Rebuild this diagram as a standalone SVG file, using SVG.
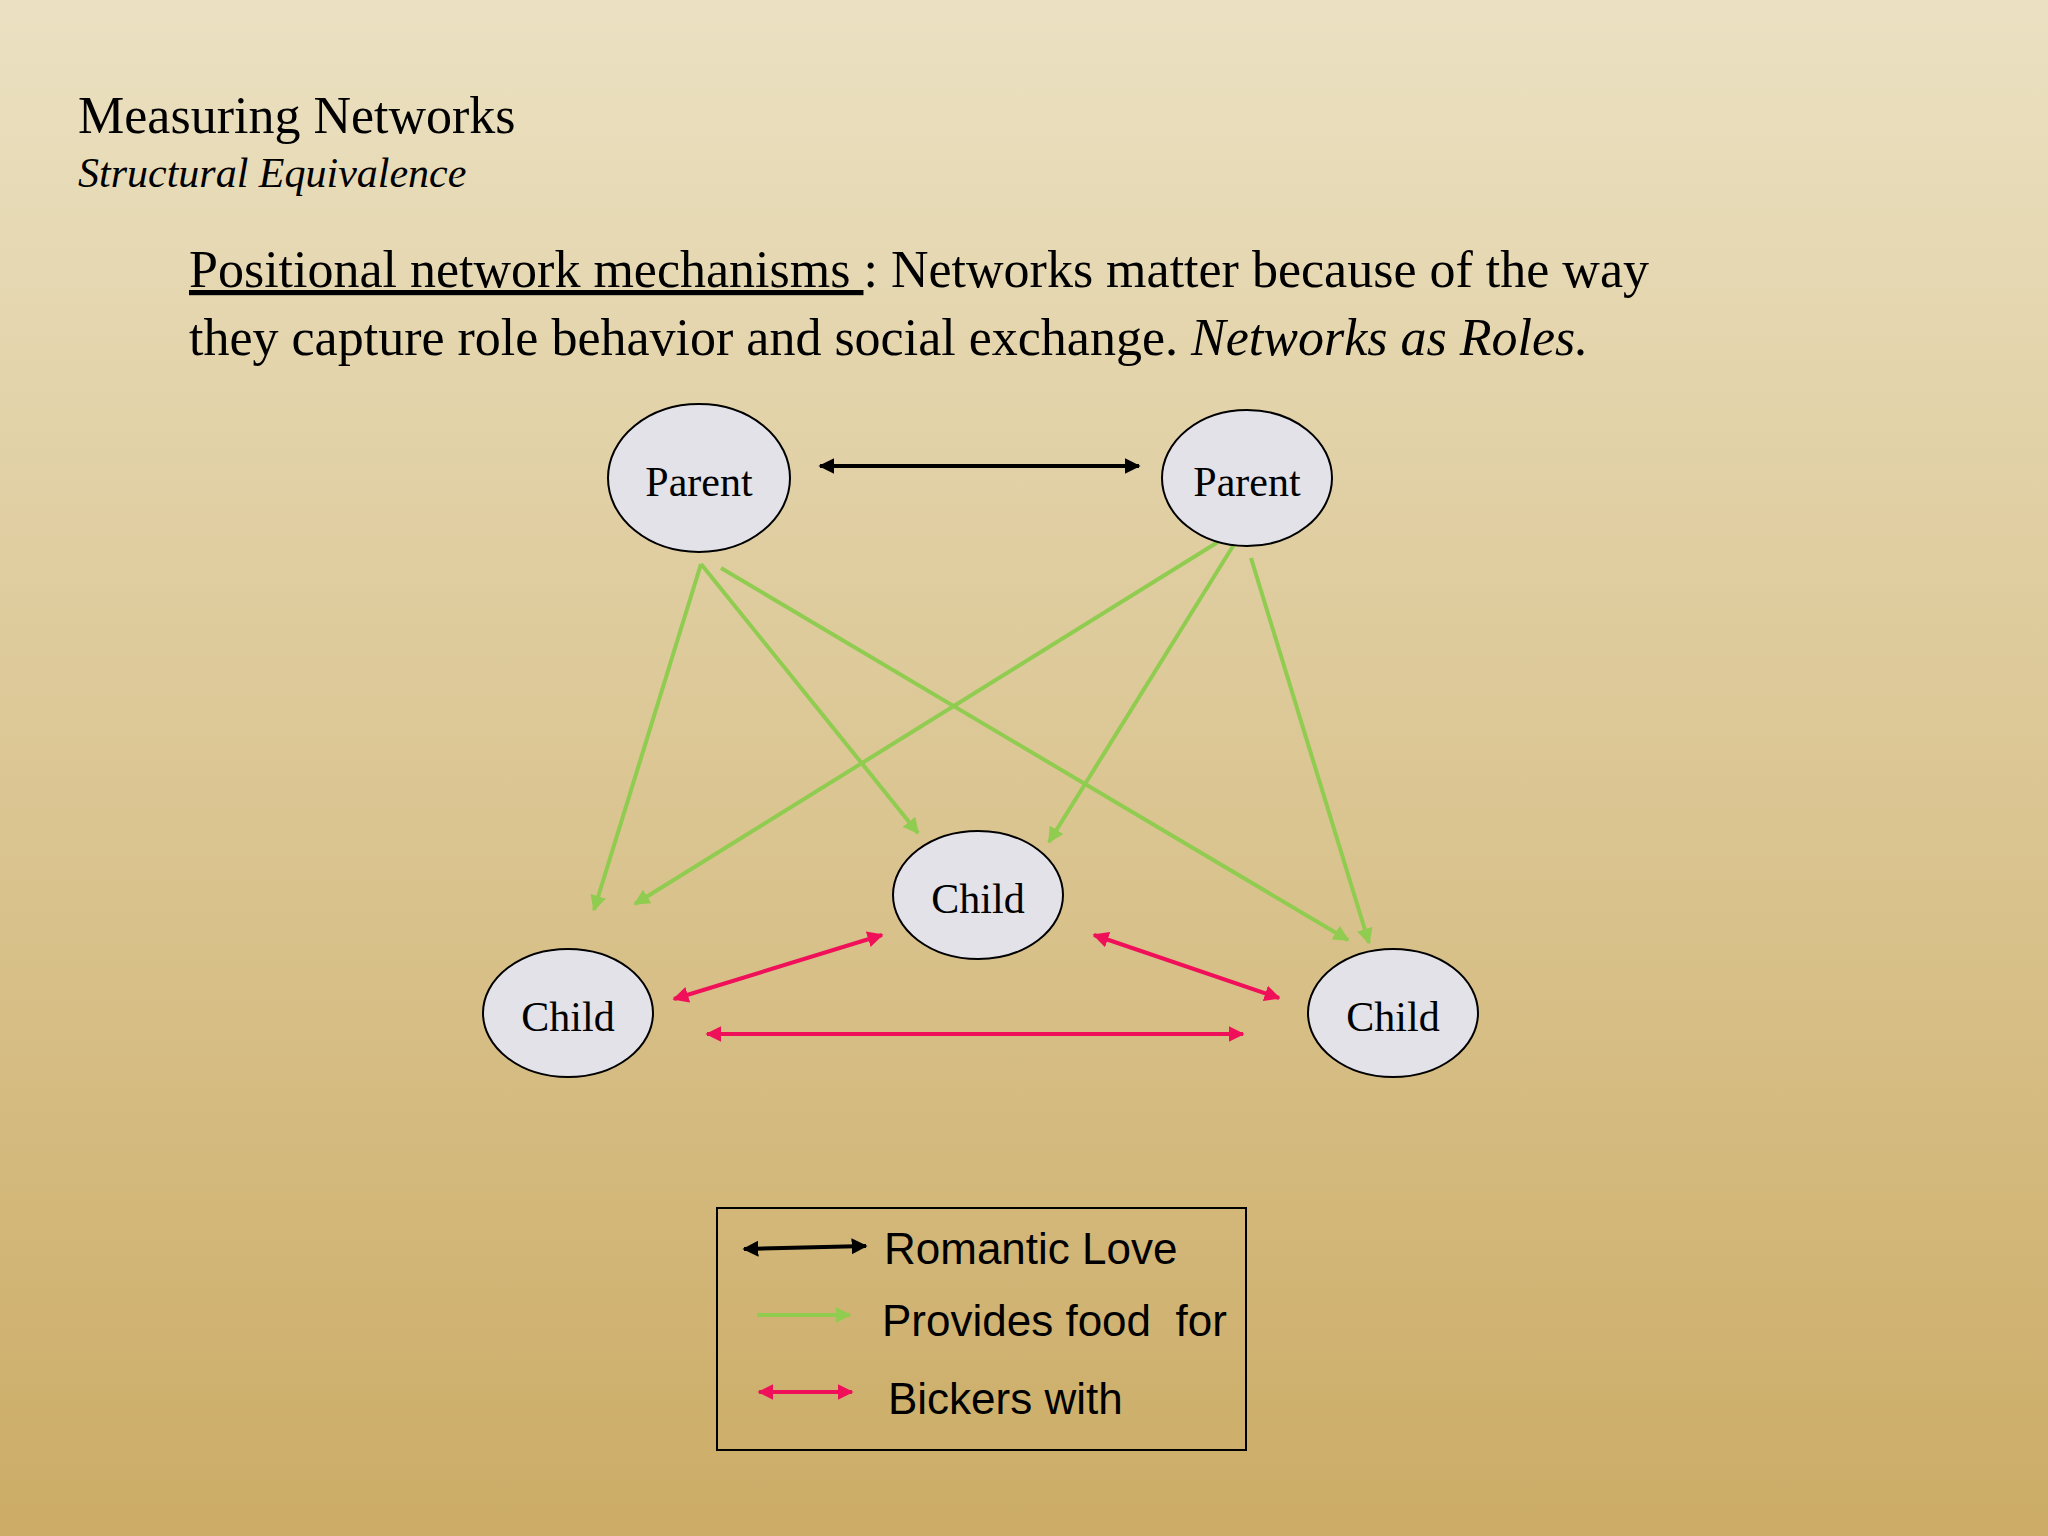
<svg xmlns="http://www.w3.org/2000/svg" width="2048" height="1536" viewBox="0 0 2048 1536">
<style>
.serif{font-family:"Liberation Serif","Times New Roman",serif;fill:#000}
.sans{font-family:"Liberation Sans",Arial,sans-serif;fill:#000;font-size:44px}
.node{fill:#e2e2e8;stroke:#000;stroke-width:2}
.lbl{font-family:"Liberation Serif",serif;font-size:42px;text-anchor:middle}
.blk{stroke:#000;stroke-width:4;fill:none}
.grn{stroke:#8fcc50;stroke-width:4;fill:none}
.red{stroke:#f0105a;stroke-width:4;fill:none}
</style>
<defs>
<linearGradient id="bg" x1="0" y1="0" x2="0" y2="1">
<stop offset="0" stop-color="#ebe1c2"/><stop offset="1" stop-color="#ccac66"/>
</linearGradient>
<marker id="ab" viewBox="0 0 10 10" refX="9" refY="5" markerWidth="4" markerHeight="4" orient="auto-start-reverse"><path d="M0,0L10,5L0,10z" fill="#000"/></marker>
<marker id="ag" viewBox="0 0 10 10" refX="9" refY="5" markerWidth="4" markerHeight="4" orient="auto-start-reverse"><path d="M0,0L10,5L0,10z" fill="#8fcc50"/></marker>
<marker id="ar" viewBox="0 0 10 10" refX="9" refY="5" markerWidth="4" markerHeight="4" orient="auto-start-reverse"><path d="M0,0L10,5L0,10z" fill="#f0105a"/></marker>
</defs>
<rect width="2048" height="1536" fill="url(#bg)"/>
<text class="serif" x="78" y="133" font-size="52">Measuring Networks</text>
<text class="serif" x="78" y="187" font-size="42" font-style="italic">Structural Equivalence</text>
<text class="serif" x="189" y="287" font-size="52"><tspan text-decoration="underline">Positional network mechanisms </tspan>: Networks matter because of the way</text>
<text class="serif" x="189" y="355" font-size="52">they capture role behavior and social exchange.  <tspan font-style="italic">Networks as Roles.</tspan></text>
<g id="connectors">
<line class="blk" x1="820" y1="466" x2="1139" y2="466" marker-start="url(#ab)" marker-end="url(#ab)"/>
<line class="grn" x1="701" y1="564" x2="594" y2="910" marker-end="url(#ag)"/>
<line class="grn" x1="701" y1="564" x2="918" y2="833" marker-end="url(#ag)"/>
<line class="grn" x1="721" y1="568" x2="1348" y2="940" marker-end="url(#ag)"/>
<line class="grn" x1="1218" y1="542" x2="635" y2="904" marker-end="url(#ag)"/>
<line class="grn" x1="1238" y1="538" x2="1049" y2="842" marker-end="url(#ag)"/>
<line class="grn" x1="1251" y1="558" x2="1369" y2="943" marker-end="url(#ag)"/>
<line class="red" x1="674" y1="999" x2="882" y2="935" marker-start="url(#ar)" marker-end="url(#ar)"/>
<line class="red" x1="1094" y1="935" x2="1279" y2="998" marker-start="url(#ar)" marker-end="url(#ar)"/>
<line class="red" x1="707" y1="1034" x2="1243" y2="1034" marker-start="url(#ar)" marker-end="url(#ar)"/>
</g>
<g id="parent1"><ellipse class="node" cx="699" cy="478" rx="91" ry="74"/><text class="lbl" x="699" y="496">Parent</text></g>
<g id="parent2"><ellipse class="node" cx="1247" cy="478" rx="85" ry="68"/><text class="lbl" x="1247" y="496">Parent</text></g>
<g id="child-mid"><ellipse class="node" cx="978" cy="895" rx="85" ry="64"/><text class="lbl" x="978" y="913">Child</text></g>
<g id="child-left"><ellipse class="node" cx="568" cy="1013" rx="85" ry="64"/><text class="lbl" x="568" y="1031">Child</text></g>
<g id="child-right"><ellipse class="node" cx="1393" cy="1013" rx="85" ry="64"/><text class="lbl" x="1393" y="1031">Child</text></g>
<g id="legend">
<rect x="717" y="1208" width="529" height="242" fill="none" stroke="#000" stroke-width="2"/>
<line class="blk" x1="744" y1="1249" x2="866" y2="1246" marker-start="url(#ab)" marker-end="url(#ab)"/>
<text class="sans" x="884" y="1264">Romantic Love</text>
<line class="grn" x1="757" y1="1315" x2="850" y2="1315" marker-end="url(#ag)"/>
<text class="sans" x="882" y="1336" xml:space="preserve">Provides food  for</text>
<line class="red" x1="759" y1="1392" x2="852" y2="1392" marker-start="url(#ar)" marker-end="url(#ar)"/>
<text class="sans" x="888" y="1414">Bickers with</text>
</g>
</svg>
